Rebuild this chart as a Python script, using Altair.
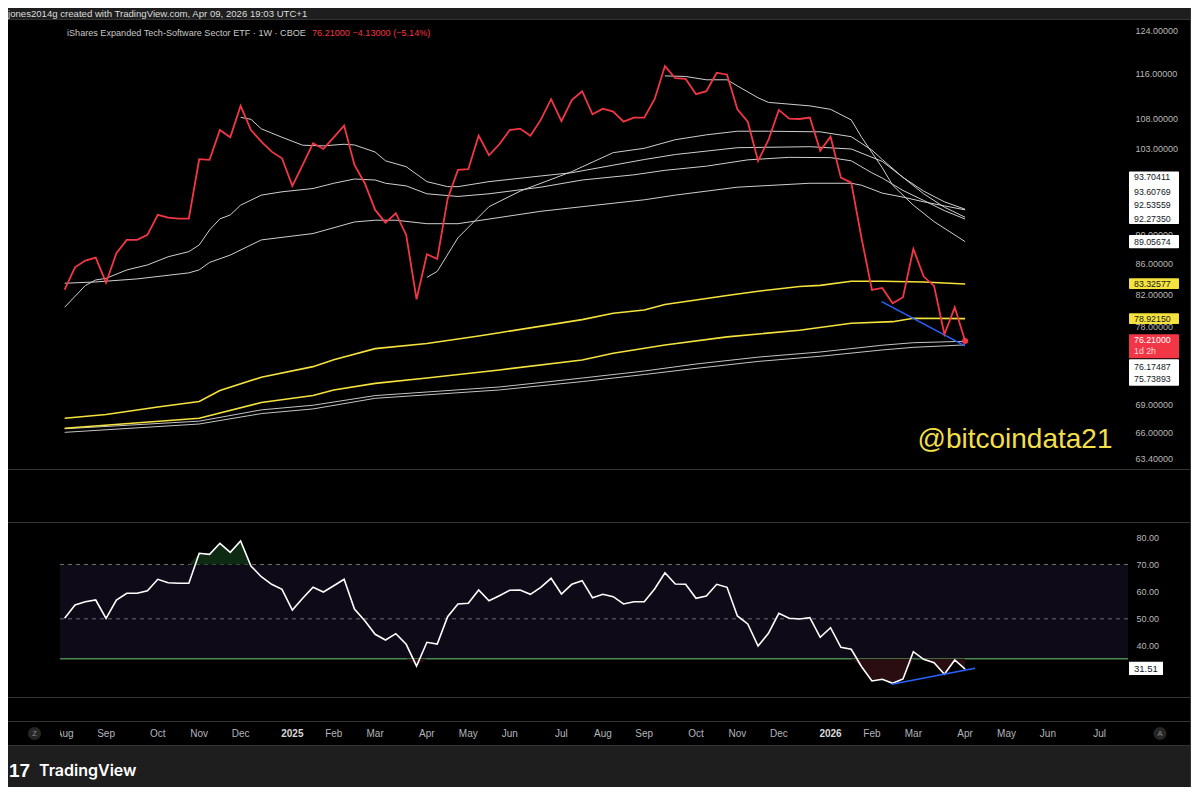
import altair as alt
import pandas as pd

FONT = "Liberation Sans"
FRAME = "#1e1e1e"
SEPC = "#333333"
RED = "#f23645"
WL = "#cfcfcf"
YEL = "#f5e23c"
BLUE = "#2962ff"
AXC = "#b8b8b8"
W = 1182

# ---------------- data ----------------
price = [82.6, 85.55, 86.45, 86.86, 83.5, 87.46, 89.3, 89.3, 90.0, 92.88, 92.48, 92.34, 92.34,
         101.35, 101.24, 106.1, 104.9, 110.2, 106.1, 104.2, 102.56, 101.5, 97.2, 100.44, 103.92,
         103.0, 104.9, 106.84, 100.44, 97.6, 93.6, 91.76, 93.12, 90.0, 81.36, 87.32, 86.67, 95.23,
         99.66, 99.77, 105.17, 101.98, 103.76, 106.1, 106.34, 105.17, 107.8, 111.36, 107.6, 111.2,
         112.76, 108.76, 109.72, 109.2, 107.5, 108.19, 108.19, 111.36, 117.3, 115.08, 114.95, 112.23,
         112.76, 116.08, 115.72, 109.62, 107.5, 101.08, 104.46, 109.5, 108.0, 107.95, 108.19, 102.72,
         105.0, 98.46, 97.69, 89.5, 82.56, 82.82, 80.85, 81.62, 88.05, 84.31, 83.09, 77.01, 80.34, 76.21]

rsi = [50.2, 55.09, 56.3, 56.93, 50.19, 56.93, 59.39, 59.39, 60.35, 64.54, 63.29, 63.07, 63.07,
       74.11, 73.74, 77.79, 74.48, 78.64, 69.44, 65.5, 62.7, 60.86, 53.25, 57.55, 61.6, 59.87, 62.19,
       64.54, 53.62, 49.31, 44.31, 42.21, 44.53, 40.63, 32.64, 41.36, 40.74, 50.78, 55.46, 55.71,
       60.61, 56.67, 58.51, 60.5, 60.61, 59.02, 61.6, 64.91, 59.14, 62.7, 64.03, 57.77, 59.02, 58.14,
       55.46, 56.3, 56.3, 60.98, 66.97, 62.82, 62.7, 57.55, 58.4, 62.7, 61.6, 51.04, 48.1, 40.0,
       44.67, 52.03, 50.19, 49.94, 50.41, 43.2, 46.73, 39.52, 38.79, 32.38, 27.12, 27.75, 26.27,
       27.86, 37.9, 35.11, 33.85, 29.59, 34.85, 31.51]

month_idx = [0, 4, 9, 13, 17, 22, 26, 30, 35, 39, 43, 48, 52, 56, 61, 65, 69, 74, 78, 82, 87, 91, 95, 100]
month_lbl = ["Aug", "Sep", "Oct", "Nov", "Dec", "2025", "Feb", "Mar", "Apr", "May", "Jun", "Jul",
             "Aug", "Sep", "Oct", "Nov", "Dec", "2026", "Feb", "Mar", "Apr", "May", "Jun", "Jul"]

a_i = [17, 18, 19, 20, 21, 23, 25, 27, 28, 30, 31, 33, 35, 37, 38, 41, 46, 49, 56, 59, 65, 72, 76, 79, 81, 83, 85, 87]
a_v = [108.24, 107.9, 106.3, 105.6, 104.9, 103.6, 103.5, 103.76, 103.64, 102.5, 101.1, 100.17, 97.85, 97.08,
       97.08, 97.85, 98.72, 99.23, 101.3, 102.1, 103.2, 103.36, 102.99, 101.0, 98.5, 96.4, 94.8, 93.70]
b_i = [0, 2, 3, 4, 6, 8, 10, 12, 13, 14, 15, 16, 17, 19, 21, 24, 26, 28, 30, 31, 33, 35, 38, 41, 46, 50, 55,
       58, 62, 66, 70, 74, 76, 78, 79, 81, 83, 85, 87]
b_v = [80.35, 83.14, 83.86, 84.07, 85.19, 85.86, 86.97, 87.67, 88.59, 90.7, 92.3, 92.86, 94.3, 95.8, 96.3,
       96.8, 97.6, 98.25, 98.1, 97.6, 97.2, 96.0, 95.6, 96.0, 97.0, 98.1, 98.9, 99.6, 100.25, 101.25,
       101.65, 101.6, 101.1, 99.2, 98.4, 96.5, 95.0, 93.5, 92.27]
c_i = [0, 3, 7, 12, 13, 14, 16, 19, 24, 28, 30, 32, 35, 38, 46, 56, 59, 65, 72, 76, 77, 79, 81, 83, 85, 87]
c_v = [83.43, 83.6, 84.0, 84.8, 85.2, 86.2, 87.2, 89.3, 90.2, 91.85, 92.1, 92.1, 91.6, 91.6, 93.4, 95.1,
       95.8, 97.0, 97.6, 97.6, 97.3, 96.1, 95.5, 94.8, 94.2, 93.61]
r_i = [35, 36, 38, 41, 44, 49, 53, 56, 59, 62, 65, 68, 73, 76, 78, 79, 81, 83, 85, 87]
r_v = [84.2, 85.0, 89.6, 94.08, 96.4, 99.4, 102.4, 103.1, 104.5, 105.3, 105.9, 105.9, 105.8, 105.0,
       102.8, 101.3, 98.5, 96.0, 94.0, 92.54]
l1_i = [58, 60, 62, 64, 65, 67, 68, 72, 74, 76, 77, 79, 80, 82, 84, 87]
l1_v = [115.5, 115.4, 114.8, 114.8, 113.7, 111.6, 110.8, 110.2, 109.6, 107.8, 104.9, 100.0, 97.3, 94.3,
        91.9, 89.06]

y1_i = [0, 4, 9, 13, 15, 19, 24, 26, 30, 35, 40, 42, 50, 53, 56, 58, 64, 67, 71, 73, 76, 79, 83, 87]
y1_v = [67.5, 67.9, 68.7, 69.3, 70.5, 72.0, 73.2, 74.0, 75.3, 75.9, 76.8, 77.2, 78.8, 79.6, 80.0, 80.7,
        81.85, 82.4, 83.0, 83.15, 83.7, 83.7, 83.6, 83.33]
y2_i = [0, 13, 19, 24, 26, 30, 35, 42, 50, 53, 58, 64, 71, 76, 80, 82, 87]
y2_v = [66.45, 67.5, 69.2, 69.95, 70.57, 71.3, 71.9, 72.82, 73.97, 74.75, 75.73, 76.7, 77.5, 78.35,
        78.55, 78.97, 78.92]
w_i = [0, 13, 19, 24, 30, 42, 50, 56, 61, 67, 73, 79, 82, 87]
w1_v = [66.4, 67.2, 68.4, 68.9, 69.95, 70.9, 71.9, 72.7, 73.5, 74.3, 74.9, 75.7, 76.0, 76.17]
w2_v = [66.03, 66.9, 68.0, 68.5, 69.65, 70.57, 71.5, 72.3, 73.0, 73.8, 74.4, 75.14, 75.45, 75.74]

trend_i = [78.94, 86.99]
trend_v = [81.06, 75.62]
rsi_trend_i = [79.9, 87.96]
rsi_trend_v = [25.9, 31.8]

price_ticks = [124, 116, 108, 103, 90, 86, 82, 78, 69, 66, 63.4]
rsi_ticks = [80, 70, 60, 50, 40]
rsi_dash_levels = [70, 50]
rsi_upper = 70
rsi_lower = 35.3

# price-scale value labels
tag_top = [99.4, 90.0, 84.08, 79.6, 77.02, 74.05]
tag_bot = [91.56, 88.14, 82.68, 78.27, 74.16, 71.05]
tag_fill = ["#ffffff", "#ffffff", YEL, YEL, RED, "#ffffff"]
tag_txt = ["93.70411", "93.60769", "92.53559", "92.27350", "89.05674", "83.32577", "78.92150",
           "76.21000", "1d 2h", "76.17487", "75.73893"]
tag_pos = [98.62, 96.24, 94.33, 92.23, 89.06, 83.35, 78.9, 76.35, 74.98, 73.2, 71.75]
tag_col = ["#131722"] * 7 + ["#ffffff", "#ffd6da", "#131722", "#131722"]

# ---------------- layout helpers ----------------
PX0, DX = 64.65, 10.35          # reference pixel of first weekly bar, bar spacing
XL, XR = 8.0, 1190.0
XDOM = [(XL - PX0) / DX, (XR - PX0) / DX]
xsc = alt.Scale(domain=XDOM, nice=False, zero=False)
band_i0 = (60 - PX0) / DX
band_i1 = (1128 - PX0) / DX
XQ = lambda f: alt.X(f"{f}:Q", scale=xsc, axis=None)

ysc = alt.Scale(type="log", domain=[62.34, 126.09], nice=False, zero=False)
paxis = alt.Axis(orient="right", offset=-62, values=price_ticks, format=".5f", labelColor=AXC,
                 labelFont=FONT, labelFontSize=9, domain=False, ticks=False, grid=False, title=None,
                 labelPadding=7)
YP = lambda f: alt.Y(f"{f}:Q", scale=ysc, axis=paxis)

rsc = alt.Scale(domain=[21.23, 85.26], nice=False, zero=False)
raxis = alt.Axis(orient="right", offset=-62, values=rsi_ticks, format=".2f", labelColor=AXC,
                 labelFont=FONT, labelFontSize=9, domain=False, ticks=False, grid=False, title=None,
                 labelPadding=8)
YR = lambda f: alt.Y(f"{f}:Q", scale=rsc, axis=raxis)


def long(series):
    rows = []
    for name, ii, vv in series:
        for a, b in zip(ii, vv):
            rows.append({"s": name, "i": a, "v": b})
    return pd.DataFrame(rows)


one = pd.DataFrame({"k": [0]})
wk = list(range(len(price)))
df_price = pd.DataFrame({"i": wk, "v": price})
df_white = long([("a", a_i, a_v), ("b", b_i, b_v), ("c", c_i, c_v), ("r", r_i, r_v), ("l1", l1_i, l1_v)])
df_yel = long([("y1", y1_i, y1_v), ("y2", y2_i, y2_v)])
df_low = long([("w1", w_i, w1_v), ("w2", w_i, w2_v)])
df_trend = pd.DataFrame({"i": trend_i, "v": trend_v})
df_tags = pd.DataFrame({"top": tag_top, "bot": tag_bot, "fill": tag_fill})
df_tagtxt = pd.DataFrame({"pos": tag_pos, "t": tag_txt, "c": tag_col})

# ---------------- main price pane ----------------
lines_w = alt.Chart(df_white).mark_line(color=WL, strokeWidth=1).encode(x=XQ("i"), y=YP("v"), detail="s:N")
lines_low = alt.Chart(df_low).mark_line(color="#c4c4c4", strokeWidth=1).encode(x=XQ("i"), y=YP("v"), detail="s:N")
lines_y = alt.Chart(df_yel).mark_line(color=YEL, strokeWidth=1.6).encode(x=XQ("i"), y=YP("v"), detail="s:N")
pline = alt.Chart(df_price).mark_line(color=RED, strokeWidth=1.8).encode(x=XQ("i"), y=YP("v"))
trend = alt.Chart(df_trend).mark_line(color=BLUE, strokeWidth=1.6).encode(x=XQ("i"), y=YP("v"))
lastdot = alt.Chart(df_price.tail(1)).mark_circle(color=RED, size=36, opacity=1).encode(x=XQ("i"), y=YP("v"))

tag_rect = alt.Chart(df_tags).mark_rect(cornerRadius=1).encode(
    x=alt.value(1121), x2=alt.value(1171), y=YP("top"), y2=alt.Y2("bot"),
    color=alt.Color("fill:N", scale=None))
tag_text = alt.Chart(df_tagtxt).mark_text(align="left", baseline="middle", font=FONT, fontSize=8.8).encode(
    x=alt.value(1126), y=YP("pos"), text="t:N", color=alt.Color("c:N", scale=None))

hdr1 = alt.Chart(one).mark_text(text="iShares Expanded Tech-Software Sector ETF · 1W · CBOE", align="left",
                                baseline="middle", font=FONT, fontSize=9.1, color="#c8c8c8").encode(
    x=alt.value(59), y=alt.value(13))
hdr2 = alt.Chart(one).mark_text(text="76.21000  −4.13000 (−5.14%)", align="left", baseline="middle",
                                font=FONT, fontSize=9.1, color=RED).encode(x=alt.value(304), y=alt.value(13))
wm = alt.Chart(one).mark_text(text="@bitcoindata21", align="center", baseline="middle", font=FONT,
                              fontSize=28, color="#f2df4a").encode(x=alt.value(1007), y=alt.value(420))

main = alt.layer(lines_low, lines_y, lines_w, trend, pline, lastdot, tag_rect, tag_text, hdr1, hdr2, wm).properties(
    width=W, height=449, view=alt.ViewBackground(fill="#000000", stroke=None))

# ---------------- RSI pane ----------------
df_rsi = pd.DataFrame({"i": wk, "r": rsi,
                       "ob": [max(v, rsi_upper) for v in rsi],
                       "os": [min(v, rsi_lower) for v in rsi],
                       "up": [rsi_upper] * len(rsi), "lo": [rsi_lower] * len(rsi)})
df_band = pd.DataFrame({"i0": [band_i0], "i1": [band_i1], "hi": [rsi_upper], "lo": [rsi_lower]})
df_dash = pd.DataFrame({"lv": rsi_dash_levels, "i0": [band_i0] * 2, "i1": [band_i1] * 2})
df_green = pd.DataFrame({"lv": [rsi_lower], "i0": [band_i0], "i1": [band_i1]})
df_rtrend = pd.DataFrame({"i": rsi_trend_i, "r": rsi_trend_v})
df_rtag = pd.DataFrame({"top": [34.22], "bot": [29.33], "pos": [31.6], "t": ["31.51"]})

band = alt.Chart(df_band).mark_rect(color="#0e0a17").encode(x=XQ("i0"), x2="i1:Q", y=YR("hi"), y2="lo:Q")
dash = alt.Chart(df_dash).mark_rule(color="#6e6e6e", strokeDash=[4, 4], strokeWidth=1).encode(
    x=XQ("i0"), x2="i1:Q", y=YR("lv"))
green = alt.Chart(df_green).mark_rule(color="#4b8a53", strokeWidth=1.5).encode(x=XQ("i0"), x2="i1:Q", y=YR("lv"))
obfill = alt.Chart(df_rsi).mark_area(color="#0f2a12", opacity=1).encode(x=XQ("i"), y=YR("ob"), y2="up:Q")
osfill = alt.Chart(df_rsi).mark_area(color="#2a0d10", opacity=1).encode(x=XQ("i"), y=YR("os"), y2="lo:Q")
rline = alt.Chart(df_rsi).mark_line(color="#ffffff", strokeWidth=1.6).encode(x=XQ("i"), y=YR("r"))
rtrend = alt.Chart(df_rtrend).mark_line(color=BLUE, strokeWidth=1.6).encode(x=XQ("i"), y=YR("r"))
rtag = alt.Chart(df_rtag).mark_rect(color="#ffffff").encode(x=alt.value(1121), x2=alt.value(1155),
                                                           y=YR("top"), y2="bot:Q")
rtagt = alt.Chart(df_rtag).mark_text(align="left", baseline="middle", font=FONT, fontSize=9.5,
                                     color="#131722").encode(x=alt.value(1126), y=YR("pos"), text="t:N")

rsi_panel = alt.layer(band, dash, green, obfill, osfill, rline, rtrend, rtag, rtagt).properties(
    width=W, height=174, view=alt.ViewBackground(fill="#000000", stroke=None))


# ---------------- empty strips ----------------
def blank(h, fill):
    return alt.Chart(one).mark_text(text=" ", fontSize=4).encode(
        x=alt.value(5), y=alt.value(h / 2)).properties(
        width=W, height=h, view=alt.ViewBackground(fill=fill, stroke=None))


top = alt.Chart(one).mark_text(text="jones2014g created with TradingView.com, Apr 09, 2026 19:03 UTC+1",
                               align="left", baseline="middle", font=FONT, fontSize=9.6,
                               color="#dcdcdc").encode(x=alt.value(0), y=alt.value(5.5)).properties(
    width=W, height=11, view=alt.ViewBackground(fill=FRAME, stroke=None))
strip2 = blank(52, "#000000")
strip4 = blank(23, "#000000")

# ---------------- time axis ----------------
df_m = pd.DataFrame({"i": month_idx, "t": month_lbl,
                     "yr": [lbl.isdigit() for lbl in month_lbl]})
mtxt = alt.Chart(df_m).transform_filter("!datum.yr").mark_text(
    baseline="middle", font=FONT, fontSize=10, color="#b2b5be").encode(x=XQ("i"), y=alt.value(11.5), text="t:N")
ytxt = alt.Chart(df_m).transform_filter("datum.yr").mark_text(
    baseline="middle", font=FONT, fontSize=10, fontWeight="bold", color="#d8d8d8").encode(
    x=XQ("i"), y=alt.value(11.5), text="t:N")
leftcell = alt.Chart(one).mark_rect(color="#000000").encode(x=alt.value(0), x2=alt.value(52),
                                                             y=alt.value(0), y2=alt.value(23))
df_btn = pd.DataFrame({"px": [26.5, 1152], "t": ["Z", "A"]})
btn = alt.Chart(df_btn).mark_circle(color="#262626", size=170, opacity=1).encode(
    x=alt.X("px:Q", scale=None), y=alt.value(11.5))
btnt = alt.Chart(df_btn).mark_text(font=FONT, fontSize=7.5, color="#8a8a8a", baseline="middle").encode(
    x=alt.X("px:Q", scale=None), y=alt.value(11.5), text="t:N")
time_panel = alt.layer(mtxt, ytxt, leftcell, btn, btnt).properties(
    width=W, height=23, view=alt.ViewBackground(fill="#000000", stroke=None))

# ---------------- footer ----------------
logo = alt.Chart(one).mark_text(text="17", align="left", baseline="middle", font=FONT, fontSize=19,
                                fontWeight="bold", color="#ffffff").encode(x=alt.value(1), y=alt.value(25))
brand = alt.Chart(one).mark_text(text="TradingView", align="left", baseline="middle", font="Inter",
                                 fontSize=16, fontWeight=600, color="#ffffff").encode(x=alt.value(31), y=alt.value(25))
footer = alt.layer(logo, brand).properties(width=W, height=41, view=alt.ViewBackground(fill=FRAME, stroke=None))

chart = alt.vconcat(top, main, strip2, rsi_panel, strip4, time_panel, footer, spacing=1).properties(
    background=SEPC, padding={"left": 0, "top": 0, "right": 1, "bottom": 0}
).configure_view(stroke=None)

chart.save("out.html", embed_options={"renderer": "svg", "actions": False})
